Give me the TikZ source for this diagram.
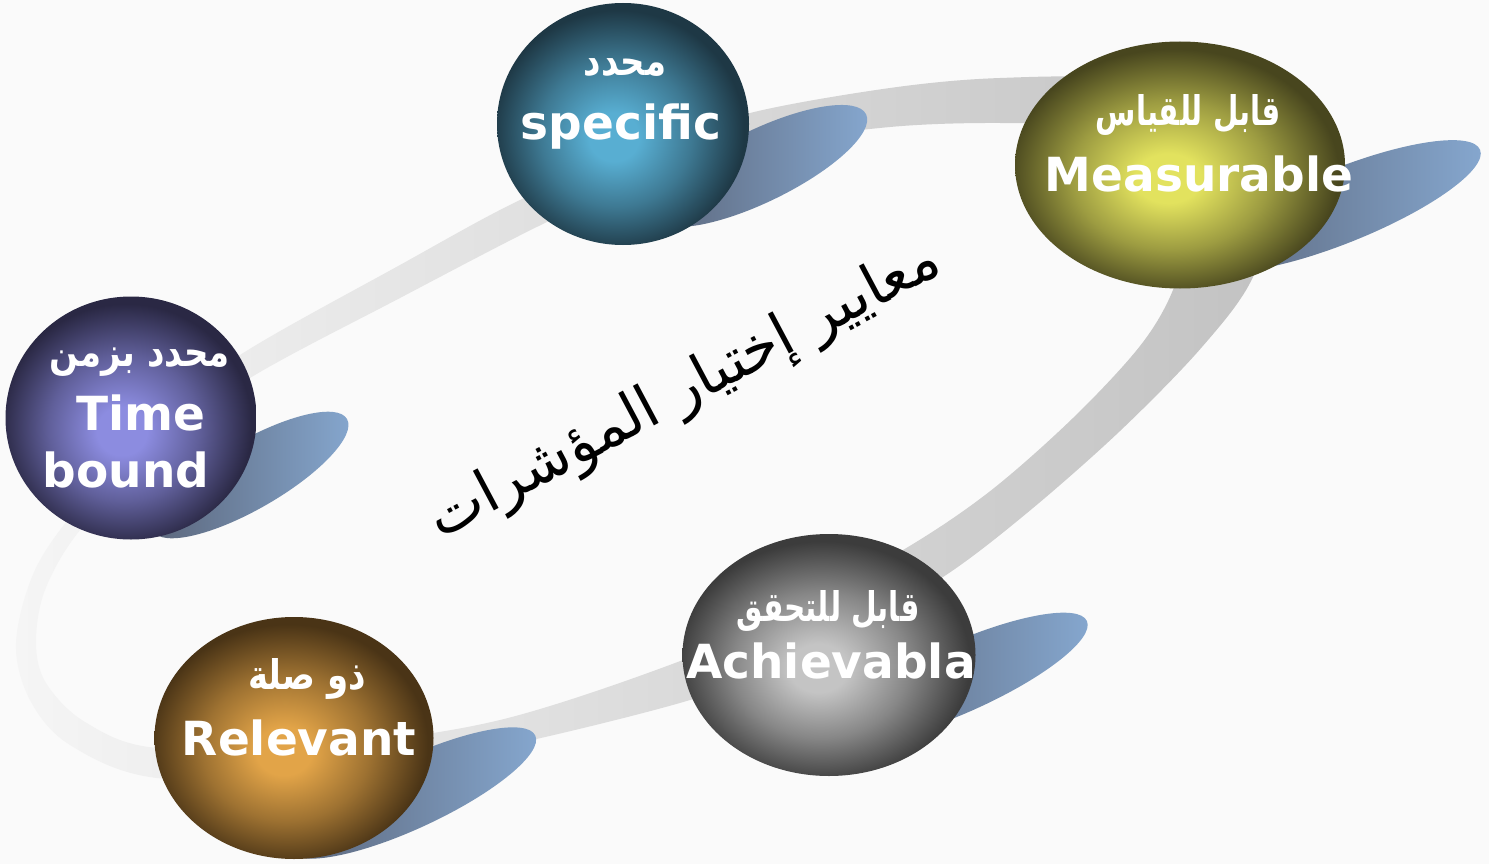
\documentclass[tikz,border=0pt]{standalone}
\usepackage{fontspec}
\setmainfont{DejaVu Sans}
\newfontfamily\arabicfont[Script=Arabic]{DejaVu Sans}
\TeXXeTstate=1
\usetikzlibrary{shapes.geometric}
\definecolor{bg}{HTML}{FAFAFA}
\definecolor{ringL}{HTML}{F5F5F5}
\definecolor{ringR}{HTML}{C2C2C2}
\definecolor{shdark}{HTML}{5A6478}
\definecolor{shlight}{HTML}{86A8D0}
\definecolor{specin}{HTML}{58AED2}
\definecolor{specout}{HTML}{1E3845}
\definecolor{measin}{HTML}{E2E25E}
\definecolor{measout}{HTML}{48461E}
\definecolor{timein}{HTML}{8C8CE0}
\definecolor{timeout}{HTML}{2A2844}
\definecolor{relin}{HTML}{E2A448}
\definecolor{relout}{HTML}{4A3416}
\definecolor{achin}{HTML}{C4C4C4}
\definecolor{achout}{HTML}{3C3C3C}
\colorlet{bin}{white}
\colorlet{bout}{black}
\pgfdeclareradialshading[bin,bout]{ballshade}{\pgfpoint{-2bp}{-3bp}}{color(0bp)=(bin); color(5bp)=(bin); color(15bp)=(bin!55!bout); color(25bp)=(bout); color(50bp)=(bout)}
\tikzset{
  ball/.style n args={4}{ellipse, minimum width=#1, minimum height=#2, inner sep=0pt,
    /utils/exec={\colorlet{bin}{#3}\colorlet{bout}{#4}}, shade, shading=ballshade},
  en/.style={anchor=base, text=white, font=\bfseries\fontsize{47}{56}\selectfont, inner sep=0pt},
  ar/.style={anchor=base, text=white, font=\arabicfont\bfseries\fontsize{34}{40}\selectfont, inner sep=0pt, yscale=1.2},
  title/.style={text=black, font=\arabicfont\fontsize{59}{66}\selectfont, inner sep=0pt},
  shadow/.style={left color=shdark, right color=shlight}
}
\begin{document}
\begin{tikzpicture}[x=1pt,y=-1pt]
\useasboundingbox (0,0) rectangle (1489,864);
\fill[bg] (0,0) rectangle (1489,864);
% ring
\shade[left color=ringL, right color=ringR, even odd rule]
  plot[smooth cycle, tension=0.55] coordinates {
   (16,643) (35,570) (80,505) (160,420) (240,355) (400,265) (520,200) (640,150)
   (750,113) (890,88) (1000,78) (1120,80) (1220,115) (1275,190) (1253,277)
   (1202,347) (1120,431) (1027,513) (943,577) (850,628) (760,668) (690,700)
   (500,747) (330,775) (157,778) (70,745) (30,700)}
  plot[smooth cycle, tension=0.55] coordinates {
   (36,643) (45,590) (80,530) (160,445) (250,378) (400,298) (547,222) (650,178)
   (760,145) (890,127) (1000,123) (1100,128) (1165,160) (1190,225) (1173,290)
   (1140,346) (1073,418) (989,492) (903,550) (790,610) (683,660) (500,720)
   (330,745) (157,748) (85,722) (46,683)};
% shadows
\begin{scope}[shift={(760,166)}, rotate=26]
  \shade[shadow] (0,0) ellipse [x radius=118, y radius=36];
\end{scope}
\begin{scope}[shift={(1341,206)}, rotate=22]
  \shade[shadow] (0,0) ellipse [x radius=150, y radius=37];
\end{scope}
\begin{scope}[shift={(250,475)}, rotate=30]
  \shade[shadow] (0,0) ellipse [x radius=112, y radius=34];
\end{scope}
\begin{scope}[shift={(412,793)}, rotate=25]
  \shade[shadow] (0,0) ellipse [x radius=136, y radius=35];
\end{scope}
\begin{scope}[shift={(959,678)}, rotate=24]
  \shade[shadow] (0,0) ellipse [x radius=140, y radius=35];
\end{scope}
% balls
\node[ball={252pt}{242pt}{specin}{specout}] (S) at (623,124) {};
\node[ball={330pt}{247pt}{measin}{measout}] (M) at (1180,165) {};
\node[ball={251pt}{243pt}{timein}{timeout}] (T) at (131,418) {};
\node[ball={279pt}{242pt}{relin}{relout}] (R) at (294,738) {};
\node[ball={293pt}{242pt}{achin}{achout}] (A) at (829,655) {};
% labels
\node[ar] (Sa) at (625,76) {\beginR محدد\endR};
\node[en] (Se) at (621,140) {specific};
\node[ar, xscale=0.86] (Ma) at (1188,126) {\beginR قابل للقياس\endR};
\node[en] (Me) at (1199,192) {Measurable};
\node[ar] (Ta) at (140,366) {\beginR محدد بزمن\endR};
\node[en] (Te1) at (141,430) {Time};
\node[en] (Te2) at (126,487) {bound};
\node[ar] (Ra) at (307,689) {\beginR ذو صلة\endR};
\node[en] (Re) at (299,755) {Relevant};
\node[ar, xscale=0.87] (Aa) at (828,621) {\beginR قابل للتحقق\endR};
\node[en] (Ae) at (831,678) {Achievabla};
% title
\node[title, rotate=28] (C) at (685,392) {\beginR معايير إختيار المؤشرات\endR};
\end{tikzpicture}
\end{document}
